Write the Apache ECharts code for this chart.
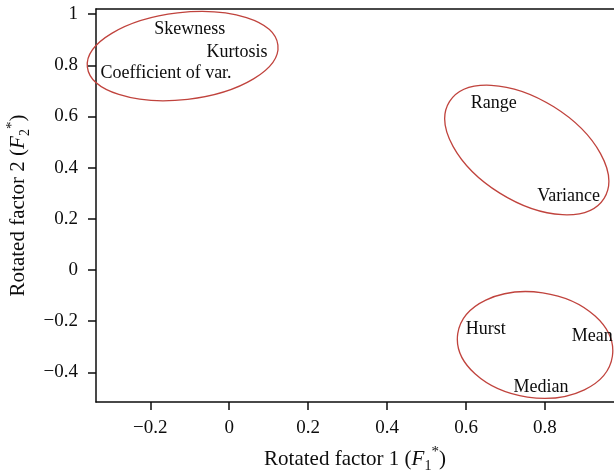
<!DOCTYPE html>
<html>
<head>
<meta charset="utf-8">
<script src="https://cdn.jsdelivr.net/npm/echarts@6/dist/echarts.min.js"></script>
<style>
  html, body { margin: 0; padding: 0; background: #fff; }
  #main { width: 614px; height: 473px; }
</style>
</head>
<body>
<div id="main"></div>
<script>
// variable loadings on the two rotated factors
const labels = ['Skewness', 'Kurtosis', 'Coefficient of var.', 'Range', 'Variance', 'Hurst', 'Mean', 'Median'];
const factor1 = [-0.10, 0.02, -0.16, 0.67, 0.86, 0.65, 0.92, 0.79];
const factor2 = [0.94, 0.85, 0.77, 0.65, 0.29, -0.23, -0.26, -0.46];

// groups circled on the plot (centre, semi-axes in factor units, tilt in degrees)
const ellipseX = [-0.118, 0.754, 0.775];
const ellipseY = [0.836, 0.469, -0.293];
const ellipseA = [0.243, 0.231, 0.198];
const ellipseB = [0.170, 0.199, 0.206];
const ellipseAngle = [6.6, -32, -8.3];

const xTicks = [-0.2, 0, 0.2, 0.4, 0.6, 0.8];
const yTicks = [-0.4, -0.2, 0, 0.2, 0.4, 0.6, 0.8, 1];

const font = '"Liberation Serif", "DejaVu Serif", serif';
const ink = '#0d0d0d';

function fmt(v) {
  const r = Math.round(v * 10) / 10;
  return (r < 0 ? '\u2212' : '') + Math.abs(r);
}

const chart = echarts.init(document.getElementById('main'));

const points = labels.map((name, i) => ({ name: name, value: [factor1[i], factor2[i]] }));
const ellipses = ellipseX.map((x, i) => [x, ellipseY[i], ellipseA[i], ellipseB[i], ellipseAngle[i]]);

const nameRich = {
  n: { fontFamily: font, fontSize: 21, color: ink, lineHeight: 28 },
  i: { fontFamily: font, fontSize: 21, color: ink, fontStyle: 'italic', lineHeight: 28 },
  sub: { fontFamily: font, fontSize: 14, color: ink, verticalAlign: 'bottom', lineHeight: 28 },
  sup: { fontFamily: font, fontSize: 15, color: ink, verticalAlign: 'top', lineHeight: 28 }
};

const option = {
  animation: false,
  grid: { left: 96, right: 0, top: 9, bottom: 71, outerBoundsMode: 'none' },
  xAxis: [
    {
      type: 'value',
      min: -0.3375,
      max: 0.975,
      name: '{n|Rotated factor 1 (}{i|F}{sub|1}{sup|*}{n|)}',
      nameLocation: 'middle',
      nameGap: 43,
      nameTextStyle: { rich: nameRich },
      splitLine: { show: false },
      axisLine: { onZero: false, lineStyle: { color: ink, width: 1.5 } },
      axisTick: { length: 8, customValues: xTicks, lineStyle: { color: ink, width: 1.5 } },
      axisLabel: {
        customValues: xTicks,
        formatter: fmt,
        margin: 17,
        fontFamily: font,
        fontSize: 19,
        color: ink
      }
    },
    {
      type: 'value',
      position: 'top',
      min: -0.3375,
      max: 0.975,
      splitLine: { show: false },
      axisLine: { onZero: false, lineStyle: { color: ink, width: 1.5 } },
      axisTick: { show: false },
      axisLabel: { show: false }
    }
  ],
  yAxis: {
    type: 'value',
    min: -0.516,
    max: 1.02,
    name: '{n|Rotated factor 2 (}{i|F}{sub|2}{sup|*}{n|)}',
    nameLocation: 'middle',
    nameGap: 62,
    nameTextStyle: { rich: nameRich },
    splitLine: { show: false },
    axisLine: { onZero: false, lineStyle: { color: ink, width: 1.5 } },
    axisTick: { length: 8, customValues: yTicks, lineStyle: { color: ink, width: 1.5 } },
    axisLabel: {
      customValues: yTicks,
      formatter: fmt,
      margin: 18,
      fontFamily: font,
      fontSize: 19,
      color: ink
    }
  },
  series: [
    {
      type: 'custom',
      clip: false,
      data: ellipses,
      renderItem: function (params, api) {
        const c = api.coord([api.value(0), api.value(1)]);
        const s = api.size([api.value(2), api.value(3)]);
        return {
          type: 'ellipse',
          x: c[0],
          y: c[1],
          rotation: api.value(4) * Math.PI / 180,
          shape: { cx: 0, cy: 0, rx: s[0], ry: s[1] },
          style: { fill: 'none', stroke: '#c0433d', lineWidth: 1.3 }
        };
      }
    },
    {
      type: 'scatter',
      symbolSize: 1,
      itemStyle: { color: 'rgba(0,0,0,0)', opacity: 1 },
      data: points,
      label: {
        show: true,
        position: 'inside',
        formatter: '{b}',
        fontFamily: font,
        fontSize: 18,
        color: ink
      }
    }
  ]
};

chart.setOption(option);
</script>
</body>
</html>
